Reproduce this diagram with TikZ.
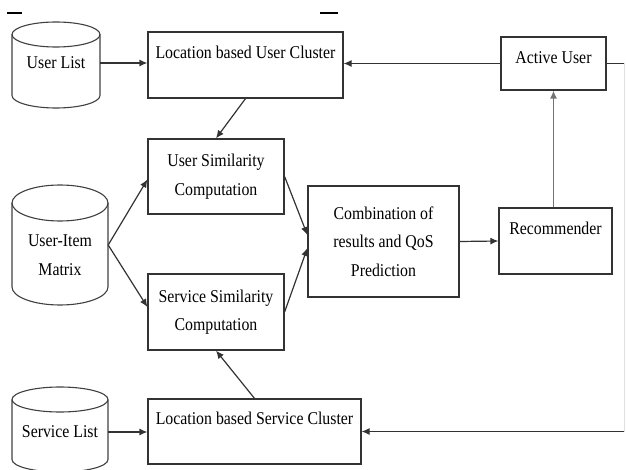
\documentclass[tikz,border=0pt]{standalone}
\usepackage{fontspec}
\setmainfont{Liberation Serif}[FakeStretch=0.88]
\usetikzlibrary{arrows.meta}

\begin{document}
\begin{tikzpicture}[x=1pt, y=-1pt,
    font=\fontsize{18}{28.5}\selectfont,
    box/.style={draw=black!80, line width=1.2pt, inner sep=0pt, align=center},
    toptext/.style 2 args={text height=#1, text depth=#2},
    cyl/.style={draw=black!75, line width=1.1pt},
    arr/.style={draw=black!80, line width=1.2pt, -{Latex[length=8pt,width=7pt]}},
    line/.style={draw=black!80, line width=1.2pt}]

\useasboundingbox (0,0) rectangle (626,470);

% stray marks at the top edge
\draw[line width=2pt] (7,13) -- (22,13);
\draw[line width=2pt] (320,13) -- (338,13);

% data stores
\draw[cyl] (56,34.5) ellipse [x radius=44pt, y radius=12.5pt];
\draw[cyl] (12,34.5) -- (12,95.5) arc[start angle=180, end angle=360, x radius=44pt, y radius=12.5pt] -- (100,34.5);
\node[minimum width=88, inner sep=0pt] (ulist) at (56,63) {User List};

\draw[cyl] (60,203) ellipse [x radius=48pt, y radius=18pt];
\draw[cyl] (12,203) -- (12,287) arc[start angle=180, end angle=360, x radius=48pt, y radius=18pt] -- (108,203);
\node[minimum width=96, inner sep=0pt, align=center] (uitem) at (60,255) {User-Item\\Matrix};

\draw[cyl] (60,399.5) ellipse [x radius=48pt, y radius=12.5pt];
\draw[cyl] (12,399.5) -- (12,459.5) arc[start angle=180, end angle=360, x radius=48pt, y radius=12.5pt] -- (108,399.5);
\node[minimum width=96, inner sep=0pt] (slist) at (60,432) {Service List};

% process boxes
\node[box, minimum width=195, toptext={26.5}{39.5}] (lucl) at (245.5,65) {Location based User Cluster};
\node[box, minimum width=105, toptext={26.5}{26.5}] (active) at (553.5,63.5) {Active User};
\node[box, minimum width=136, minimum height=75] (usim) at (216,176.5) {User Similarity\\Computation};
\node[box, minimum width=136, minimum height=76] (ssim) at (216,312) {Service Similarity\\Computation};
\node[box, minimum width=151, minimum height=111] (comb) at (383.5,241.5) {Combination of\\results and QoS\\Prediction};
\node[box, minimum width=113, toptext={26.5}{39.5}] (rec) at (555.5,241) {Recommender};
\node[box, minimum width=213, toptext={25.5}{39.5}] (lscl) at (254.5,431.5) {Location based Service Cluster};

% connectors
\draw[arr] (ulist.east) -- (ulist.east -| lucl.west);
\draw[arr] (slist.east) -- (slist.east -| lscl.west);
\draw[arr] ([yshift=10pt]uitem.east) -- ([yshift=-3pt]usim.west);
\draw[arr] ([yshift=10pt]uitem.east) -- ([yshift=5pt]ssim.west);
\draw[arr] (lucl.south) -- (usim.north);
\draw[arr] (lscl.north) -- (ssim.south);
\draw[arr] (usim.east) -- ([yshift=6.5pt]comb.west);
\draw[arr] (ssim.east) -- ([yshift=-6.5pt]comb.west);
\draw[arr] (comb.east) -- (rec.west);
\draw[arr, draw=black!55] (active.south |- rec.north) -- (active.south);
\draw[arr] (active.west) -- (active.west -| lucl.east);

% loop at the right edge
\coordinate (loopt) at (624,63.5);
\coordinate (loopb) at (624,431.5);
\draw[line] (active.east) -- (loopt);
\draw[draw=black!12, line width=1pt] (loopt) -- (loopb);
\draw[arr] (loopb) -- (lscl.east);

\end{tikzpicture}
\end{document}
